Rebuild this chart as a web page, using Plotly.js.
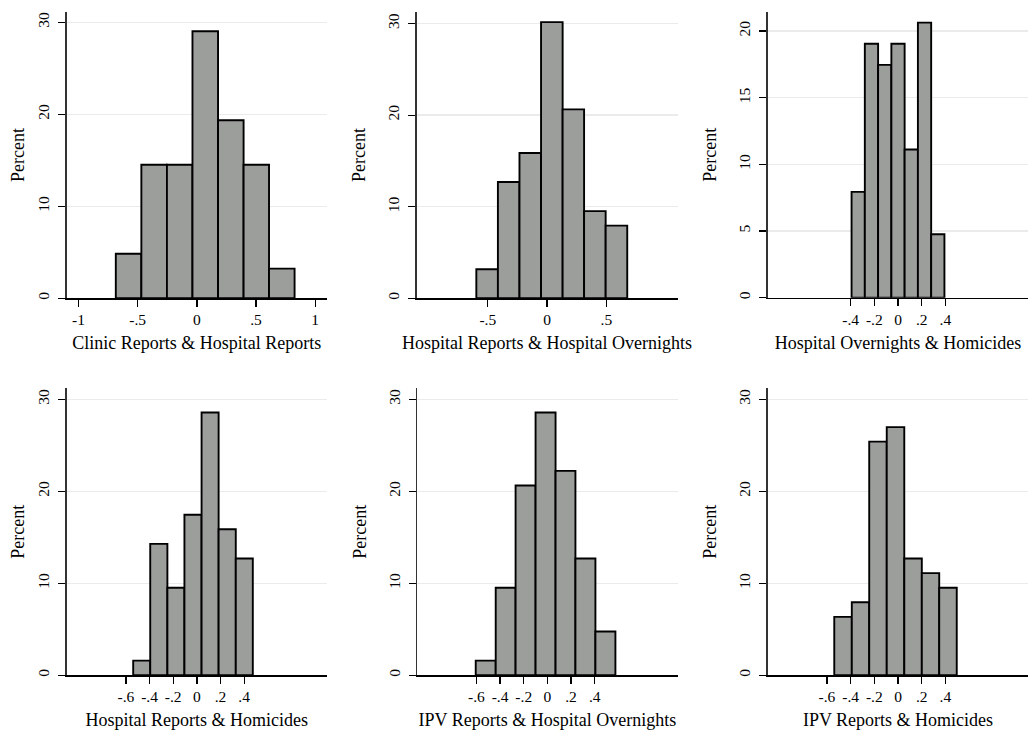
<!DOCTYPE html>
<html>
<head>
<meta charset="utf-8">
<script src="https://cdn.plot.ly/plotly-3.0.1.min.js"></script>
<style>html,body{margin:0;padding:0;background:#fff;}#chart{width:1033px;height:739px;}</style>
</head>
<body>
<div id="chart"></div>
<script>
// Panel titles (x-axis labels)
const panelTitles = [
  "Clinic Reports & Hospital Reports",
  "Hospital Reports & Hospital Overnights",
  "Hospital Overnights & Homicides",
  "Hospital Reports & Homicides",
  "IPV Reports & Hospital Overnights",
  "IPV Reports & Homicides"
];

// Bin edges
const edges1 = [-0.685, -0.469, -0.253, -0.037, 0.179, 0.395, 0.610, 0.826];
const edges2 = [-0.597, -0.415, -0.233, -0.051, 0.131, 0.312, 0.494, 0.676];
const edges3 = [-0.392, -0.280, -0.168, -0.056, 0.056, 0.168, 0.280, 0.392];
const edges4 = [-0.538, -0.394, -0.249, -0.105, 0.040, 0.184, 0.329, 0.473];
const edges5 = [-0.606, -0.437, -0.269, -0.100, 0.069, 0.237, 0.406, 0.575];
const edges6 = [-0.538, -0.390, -0.243, -0.095, 0.053, 0.201, 0.348, 0.496];

// Percent per bin
const pct1 = [4.84, 14.52, 14.52, 29.03, 19.35, 14.52, 3.23];
const pct2 = [3.17, 12.70, 15.87, 30.16, 20.63, 9.52, 7.94];
const pct3 = [7.94, 19.05, 17.46, 19.05, 11.11, 20.63, 4.76];
const pct4 = [1.59, 14.29, 9.52, 17.46, 28.57, 15.87, 12.70];
const pct5 = [1.59, 9.52, 20.63, 28.57, 22.22, 12.70, 4.76];
const pct6 = [6.35, 7.94, 25.40, 26.98, 12.70, 11.11, 9.52];

// Tick values / labels
const xt1 = [-1, -0.5, 0, 0.5, 1];           const xl1 = ["-1", "-.5", "0", ".5", "1"];
const xt2 = [-0.5, 0, 0.5];                  const xl2 = ["-.5", "0", ".5"];
const xt3 = [-0.4, -0.2, 0, 0.2, 0.4];       const xl3 = ["-.4", "-.2", "0", ".2", ".4"];
const xt4 = [-0.6, -0.4, -0.2, 0, 0.2, 0.4]; const xl4 = ["-.6", "-.4", "-.2", "0", ".2", ".4"];
const yt30 = [0, 10, 20, 30];
const yt20 = [0, 5, 10, 15, 20];

const W = 1033, H = 739;
const panels = [
  {edges: edges1, pct: pct1, xt: xt1, xl: xl1, yt: yt30, ymax: 31.15, px: [66.7, 327.0], py: [11.7, 298.3], ys: 8.5},
  {edges: edges2, pct: pct2, xt: xt2, xl: xl2, yt: yt30, ymax: 31.3,  px: [416.7, 677.5], py: [11.7, 298.3], ys: 17.5},
  {edges: edges3, pct: pct3, xt: xt3, xl: xl3, yt: yt20, ymax: 21.45, px: [767.7, 1028.3], py: [11.7, 297.7], ys: 17.5},
  {edges: edges4, pct: pct4, xt: xt4, xl: xl4, yt: yt30, ymax: 31.2,  px: [66.7, 327.0], py: [388.3, 675.3], ys: 8.5},
  {edges: edges5, pct: pct5, xt: xt4, xl: xl4, yt: yt30, ymax: 31.2,  px: [417.3, 677.5], py: [388.3, 675.3], ys: 17.5},
  {edges: edges6, pct: pct6, xt: xt4, xl: xl4, yt: yt30, ymax: 31.2,  px: [767.7, 1028.3], py: [388.3, 675.3], ys: 17.5}
];

const font = "Liberation Serif, Times New Roman, serif";
const traces = [];
const layout = {
  width: W, height: H,
  margin: {l: 0, r: 0, t: 0, b: 0},
  paper_bgcolor: "#ffffff",
  plot_bgcolor: "#ffffff",
  showlegend: false,
  font: {family: font, color: "#000", size: 15.5}
};

panels.forEach((p, i) => {
  const n = i + 1;
  const xs = [], ws = [];
  for (let k = 0; k < p.pct.length; k++) {
    xs.push((p.edges[k] + p.edges[k + 1]) / 2);
    ws.push(p.edges[k + 1] - p.edges[k]);
  }
  traces.push({
    type: "bar",
    x: xs, y: p.pct, width: ws,
    xaxis: "x" + (n === 1 ? "" : n), yaxis: "y" + (n === 1 ? "" : n),
    marker: {color: "#9c9e9c", line: {color: "#000", width: 1.9}},
    hoverinfo: "skip"
  });
  const xa = {
    domain: [p.px[0] / W, p.px[1] / W],
    range: [-1.1, 1.1],
    anchor: "y" + (n === 1 ? "" : n),
    showgrid: false, zeroline: false,
    showline: true, linecolor: "#000", linewidth: 1.3,
    ticks: "outside", ticklen: 7, tickwidth: 1.3, tickcolor: "#000",
    tickvals: p.xt, ticktext: p.xl,
    tickfont: {family: font, size: 15.5, color: "#000"},
    title: {text: panelTitles[i], font: {family: font, size: 18, color: "#000"}, standoff: 9},
    automargin: false, fixedrange: true
  };
  const ya = {
    domain: [1 - p.py[1] / H, 1 - p.py[0] / H],
    range: [0, p.ymax],
    anchor: "x" + (n === 1 ? "" : n),
    showgrid: true, gridcolor: "#ebebeb", gridwidth: 1.5,
    zeroline: false,
    showline: true, linecolor: "#333", linewidth: 1.5,
    ticks: "outside", ticklen: 7, tickwidth: 1.3, tickcolor: "#000",
    tickvals: p.yt, ticktext: p.yt.map(String),
    tickangle: -90,
    ticklabelstandoff: 3,
    tickfont: {family: font, size: 15.5, color: "#000"},
    title: {text: "Percent", font: {family: font, size: 18, color: "#000"}, standoff: p.ys - 3},
    automargin: false, fixedrange: true
  };
  layout["xaxis" + (n === 1 ? "" : n)] = xa;
  layout["yaxis" + (n === 1 ? "" : n)] = ya;
});

Plotly.newPlot("chart", traces, layout, {staticPlot: true, displayModeBar: false});
</script>
</body>
</html>
